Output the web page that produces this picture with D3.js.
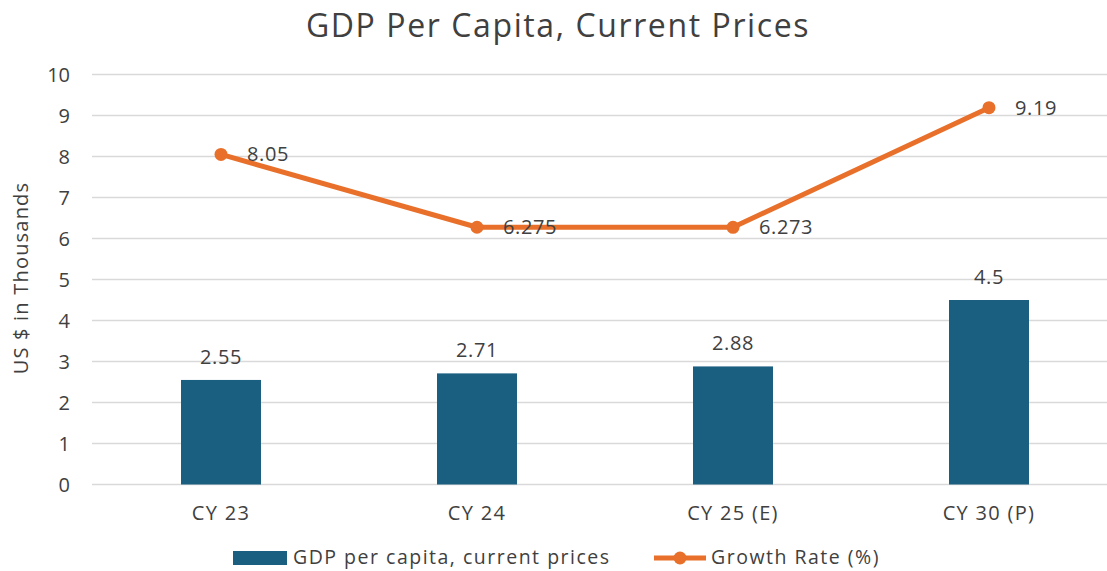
<!DOCTYPE html>
<html>
<head>
<title>GDP Per Capita</title>
<script src="https://d3js.org/d3.v7.min.js"></script>
<style type="text/css">
	body{ margin:0; background:white; }
	text{ font-family:"Open Sans", Inter, sans-serif; fill:#404040; }
	.grid line{ stroke:#d9d9d9; stroke-width:1.3; }
	.bar{ fill:#1a5e80; }
	.growth{ fill:none; stroke:#e8702a; stroke-width:5; stroke-linejoin:round; }
	.dot{ fill:#e8702a; }
</style>
</head>
<body>
<svg id="chart" width="1107" height="571"></svg>
<script>
// data
var categories = ["CY 23", "CY 24", "CY 25 (E)", "CY 30 (P)"];
var gdpValues = [2.55, 2.71, 2.88, 4.5];
var growthValues = [8.05, 6.275, 6.273, 9.19];
var yTicks = [0, 1, 2, 3, 4, 5, 6, 7, 8, 9, 10];
var seriesNames = ["GDP per capita, current prices", "Growth Rate (%)"];

var svg = d3.select("#chart");
var margin = {top:74.5, left:93, bottom:86.5};
var plotH = 571 - margin.top - margin.bottom;

var x = d3.scaleBand().domain(categories).range([93, 1117]);
var y = d3.scaleLinear().domain([0, 10]).range([margin.top + plotH, margin.top]);
var barW = 80;

// title
svg.append("text")
	.attr("x", 558).attr("y", 37)
	.attr("text-anchor", "middle")
	.style("font-size", "32px")
	.style("letter-spacing", "1.6px")
	.text("GDP Per Capita, Current Prices");

// gridlines
svg.append("g").attr("class", "grid")
	.selectAll("line").data(yTicks).enter()
	.append("line")
	.attr("x1", 92).attr("x2", 1107)
	.attr("y1", d => y(d)).attr("y2", d => y(d));

// y tick labels
svg.append("g").selectAll("text").data(yTicks).enter()
	.append("text")
	.attr("x", 70).attr("y", d => y(d))
	.attr("dy", "0.35em")
	.attr("text-anchor", "end")
	.style("font-size", "20px")
	.text(d => d);

// y axis title
svg.append("text")
	.attr("transform", "translate(28,278) rotate(-90)")
	.attr("text-anchor", "middle")
	.style("font-size", "20px")
	.style("letter-spacing", "1.2px")
	.text("US $ in Thousands");

// category labels
svg.append("g").selectAll("text").data(categories).enter()
	.append("text")
	.attr("x", d => x(d) + x.bandwidth()/2)
	.attr("y", 520)
	.attr("text-anchor", "middle")
	.style("font-size", "20px")
	.style("letter-spacing", "1.3px")
	.text(d => d);

// bars
svg.selectAll(".bar").data(gdpValues).enter()
	.append("rect").attr("class", "bar")
	.attr("x", (d, i) => x(categories[i]) + x.bandwidth()/2 - barW/2)
	.attr("width", barW)
	.attr("y", d => y(d))
	.attr("height", d => y(0) - y(d));

svg.append("g").selectAll("text").data(gdpValues).enter()
	.append("text")
	.attr("x", (d, i) => x(categories[i]) + x.bandwidth()/2)
	.attr("y", d => y(d) - 16)
	.attr("text-anchor", "middle")
	.style("font-size", "20px")
	.style("letter-spacing", "0.6px")
	.text(d => d);

// growth line
var line = d3.line()
	.x((d, i) => x(categories[i]) + x.bandwidth()/2)
	.y(d => y(d));

svg.append("path").datum(growthValues)
	.attr("class", "growth")
	.attr("d", line);

svg.selectAll(".dot").data(growthValues).enter()
	.append("circle").attr("class", "dot")
	.attr("cx", (d, i) => x(categories[i]) + x.bandwidth()/2)
	.attr("cy", d => y(d))
	.attr("r", 6.5);

svg.append("g").selectAll("text").data(growthValues).enter()
	.append("text")
	.attr("x", (d, i) => x(categories[i]) + x.bandwidth()/2 + 26)
	.attr("y", d => y(d))
	.attr("dy", "0.35em")
	.style("font-size", "20px")
	.style("letter-spacing", "0.6px")
	.text(d => d);

// legend
var legend = svg.append("g");
legend.append("rect").attr("class", "bar")
	.attr("x", 233).attr("y", 551).attr("width", 54).attr("height", 14);
legend.append("text")
	.attr("x", 293).attr("y", 564)
	.style("font-size", "19.5px")
	.style("letter-spacing", "1.5px")
	.text(seriesNames[0]);
legend.append("line")
	.attr("x1", 654).attr("x2", 706).attr("y1", 558).attr("y2", 558)
	.attr("stroke", "#e8702a").attr("stroke-width", 5);
legend.append("circle").attr("class", "dot")
	.attr("cx", 680).attr("cy", 558).attr("r", 6.5);
legend.append("text")
	.attr("x", 711).attr("y", 564)
	.style("font-size", "19.5px")
	.style("letter-spacing", "1.5px")
	.text(seriesNames[1]);
</script>
</body>
</html>
